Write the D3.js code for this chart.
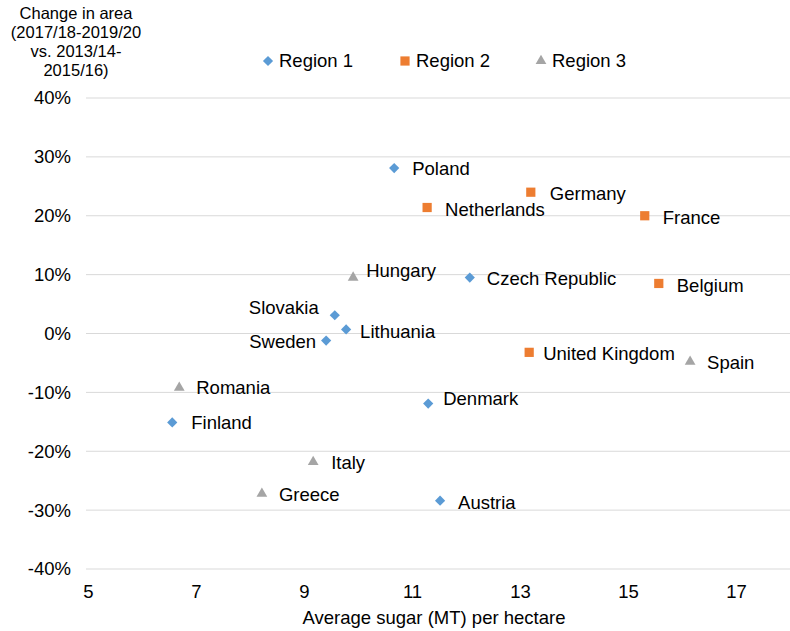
<!DOCTYPE html>
<html>
<head>
<meta charset="utf-8">
<script src="https://cdn.jsdelivr.net/npm/d3@7/dist/d3.min.js"></script>
<style>
  body { margin: 0; background: #fff; }
  text { font-family: "Liberation Sans", Arial, sans-serif; fill: #000; }
</style>
</head>
<body>
<svg id="chart" width="790" height="631"></svg>
<script>
// Data
const countries = ["Poland", "Czech Republic", "Slovakia", "Lithuania", "Sweden", "Denmark", "Finland", "Austria",
                   "Germany", "Netherlands", "France", "Belgium", "United Kingdom",
                   "Hungary", "Romania", "Italy", "Greece", "Spain"];
const sugarPerHa = [10.67, 12.07, 9.57, 9.78, 9.41, 11.30, 6.56, 11.52,
                    13.20, 11.28, 15.31, 15.57, 13.17,
                    9.91, 6.69, 9.17, 8.22, 16.15];
const areaChange = [0.281, 0.095, 0.031, 0.007, -0.012, -0.119, -0.151, -0.284,
                    0.240, 0.214, 0.200, 0.085, -0.032,
                    0.095, -0.092, -0.218, -0.272, -0.048];
const regionOf = [1, 1, 1, 1, 1, 1, 1, 1,
                  2, 2, 2, 2, 2,
                  3, 3, 3, 3, 3];
const regions = ["Region 1", "Region 2", "Region 3"];
const xTicks = [5, 7, 9, 11, 13, 15, 17];
const yTicks = [-0.4, -0.3, -0.2, -0.1, 0, 0.1, 0.2, 0.3, 0.4];

// Styling
const colors = ["#5B9BD5", "#ED7D31", "#A5A5A5"];
const fontSize = 18.5;
// label placement (pixel offsets from point), by country
const labelPos = {
  "Poland": [18, 0, "start"], "Czech Republic": [17, 1, "start"], "Slovakia": [-16, -8, "end"],
  "Lithuania": [14, 2, "start"], "Sweden": [-10, 1, "end"], "Denmark": [15, -5, "start"],
  "Finland": [19, 0, "start"], "Austria": [18, 2, "start"], "Germany": [19, 1, "start"],
  "Netherlands": [18, 2, "start"], "France": [18, 2, "start"], "Belgium": [18, 2, "start"],
  "United Kingdom": [14, 1, "start"], "Hungary": [13, -7, "start"], "Romania": [17, 0, "start"],
  "Italy": [18, 1, "start"], "Greece": [17, 1, "start"], "Spain": [17, 1, "start"]
};

const svg = d3.select("#chart");

const x = d3.scaleLinear().domain([5, 18]).range([88, 790]);
const y = d3.scaleLinear().domain([-0.4, 0.4]).range([569, 98]);

const symbolFor = (r) => {
  if (r === 1) return d3.symbol().type(d3.symbolSquare).size(52)();
  if (r === 2) return d3.symbol().type(d3.symbolSquare).size(85)();
  return d3.symbol().type(d3.symbolTriangle).size(50)();
};
const rotFor = (r) => r === 1 ? " rotate(45)" : "";

// Gridlines
svg.append("g")
  .selectAll("line")
  .data(yTicks)
  .join("line")
  .attr("x1", 86).attr("x2", 790)
  .attr("y1", (d) => y(d)).attr("y2", (d) => y(d))
  .attr("stroke", "#d9d9d9")
  .attr("stroke-width", 1);

// Y axis labels (plain hyphen for negatives, like the original)
const yAxis = svg.append("g")
  .attr("transform", "translate(86,0)")
  .call(d3.axisLeft(y).tickValues(yTicks).tickFormat((d) => Math.round(d * 100) + "%").tickSize(0).tickPadding(15));
yAxis.select(".domain").remove();
yAxis.selectAll("text").attr("font-size", fontSize).attr("font-family", "Liberation Sans, Arial, sans-serif");

// X axis labels
const xAxis = svg.append("g")
  .attr("transform", "translate(0,585)")
  .call(d3.axisBottom(x).tickValues(xTicks).tickSize(0).tickPadding(0));
xAxis.select(".domain").remove();
xAxis.selectAll("text").attr("font-size", fontSize).attr("font-family", "Liberation Sans, Arial, sans-serif");

// Axis titles
svg.append("text")
  .attr("x", 434).attr("y", 624)
  .attr("text-anchor", "middle")
  .attr("font-size", fontSize)
  .text("Average sugar (MT) per hectare");

const titleLines = ["Change in area", "(2017/18-2019/20", "vs. 2013/14-", "2015/16)"];
svg.append("text")
  .attr("text-anchor", "middle")
  .attr("font-size", 16.5)
  .selectAll("tspan")
  .data(titleLines)
  .join("tspan")
  .attr("x", 76)
  .attr("y", (d, i) => 19 + i * 19)
  .text((d) => d);

// Points
const idx = d3.range(countries.length);
svg.append("g")
  .selectAll("path")
  .data(idx)
  .join("path")
  .attr("d", (i) => symbolFor(regionOf[i]))
  .attr("transform", (i) => "translate(" + x(sugarPerHa[i]) + "," + y(areaChange[i]) + ")" + rotFor(regionOf[i]))
  .attr("fill", (i) => colors[regionOf[i] - 1]);

// Point labels
svg.append("g")
  .selectAll("text")
  .data(idx)
  .join("text")
  .attr("x", (i) => x(sugarPerHa[i]) + labelPos[countries[i]][0])
  .attr("y", (i) => y(areaChange[i]) + labelPos[countries[i]][1])
  .attr("dy", "0.35em")
  .attr("text-anchor", (i) => labelPos[countries[i]][2])
  .attr("font-size", fontSize)
  .text((i) => countries[i]);

// Legend
const legendX = [268, 405, 541];
const legend = svg.append("g")
  .selectAll("g")
  .data(regions)
  .join("g")
  .attr("transform", (d, i) => "translate(" + legendX[i] + ",61)");
legend.append("path")
  .attr("d", (d, i) => symbolFor(i + 1))
  .attr("transform", (d, i) => i === 0 ? "rotate(45)" : "")
  .attr("fill", (d, i) => colors[i]);
legend.append("text")
  .attr("x", 11)
  .attr("dy", "0.35em")
  .attr("font-size", fontSize)
  .text((d) => d);
</script>
</body>
</html>
